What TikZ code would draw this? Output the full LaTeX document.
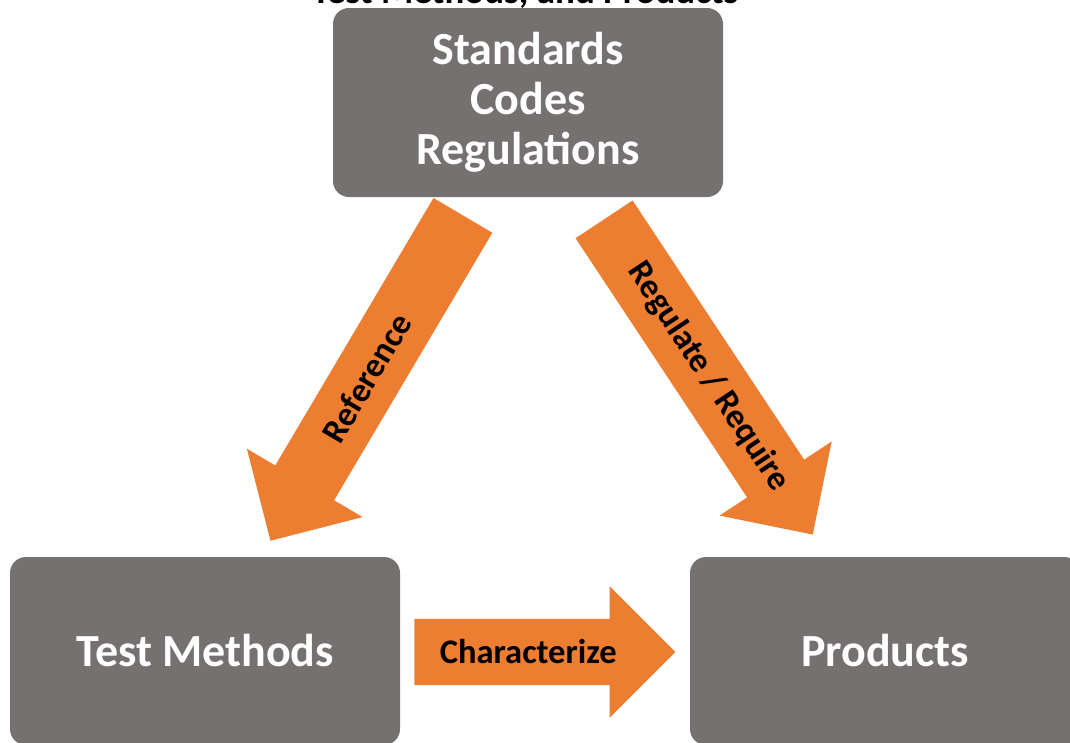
\documentclass[tikz,border=0pt]{standalone}
\usepackage{fontspec}
\setmainfont{Carlito}
\usetikzlibrary{shapes.arrows,positioning,calc}
\definecolor{boxgray}{HTML}{767171}
\definecolor{flowOrange}{HTML}{ED7D31}

\begin{document}
\begin{tikzpicture}[
    x=1pt, y=-1pt,
    every node/.style={font=\bfseries},
    box/.style={rectangle, fill=boxgray, rounded corners=16pt, text=white, align=center,
                inner sep=0pt, minimum width=390pt,
                font=\fontsize{46}{50}\selectfont\bfseries},
    flow/.style={single arrow, fill=flowOrange, single arrow head extend=33pt,
                 single arrow tip angle=90, inner xsep=0pt, inner ysep=23pt,
                 text height=22pt, text depth=0pt, anchor=tail,
                 font=\fontsize{34.5}{40}\selectfont\bfseries},
    flowlabel/.style={inner sep=0pt, font=\fontsize{34.5}{40}\selectfont\bfseries},
]
\clip (0,0) rectangle (1070,742);

% --- Title (cut off at the top) ---
\node[anchor=base, font=\fontsize{37}{42}\selectfont\bfseries] (title) at (525,3) {Test Methods, and Products};

% --- Boxes ---
\node[box, minimum height=189pt] (std) at (528,102.5) {Standards\\Codes\\Regulations};
\node[box, minimum height=188pt] (test) at (205,651) {Test Methods};
\node[box, minimum height=188pt] (prod) at (885,651) {Products};

% --- Arrows ---
\node[flow, minimum height=378pt, shape border rotate=180, rotate=59.4] (ref)
    at ($(std.south)+(-65,18)$) {};
\node[flow, minimum height=378pt, rotate=-56.5] (reg)
    at ($(std.south)+(76,22)$) {};
\node[flow, minimum height=261pt, inner ysep=22pt, single arrow head extend=32.5pt] (char)
    at ($(test.east)+(14,1)$) {Characterize};

% --- Labels on the diagonal arrows ---
\node[flowlabel, rotate=59.4] (reflabel) at ($(ref.tail)!0.5!(ref.tip)$) {Reference};
\node[flowlabel, rotate=-56.5] (reglabel) at ($(reg.tail)!0.5!(reg.tip)$) {Regulate / Require};

\end{tikzpicture}
\end{document}
